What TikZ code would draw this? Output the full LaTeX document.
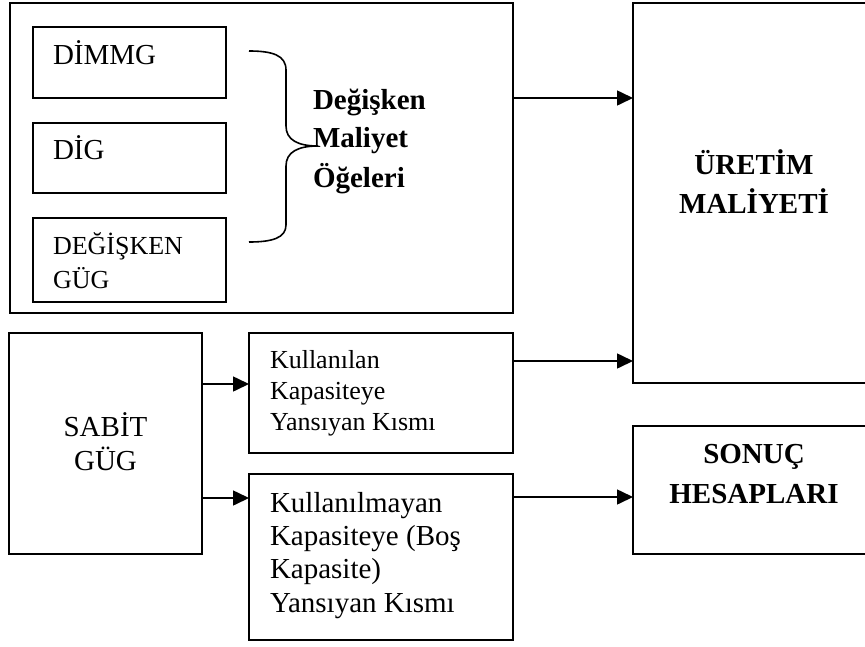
\documentclass[tikz,border=0pt]{standalone}
\usepackage{fontspec}
\setmainfont{Liberation Serif}
\usetikzlibrary{arrows.meta}
\begin{document}
\begin{tikzpicture}[x=1pt,y=-1pt,
  box/.style={draw, line width=1.6pt, inner sep=0pt, outer sep=0pt, anchor=north west},
  lbl/.style={inner sep=0pt, outer sep=0pt, anchor=base west},
  clbl/.style={inner sep=0pt, outer sep=0pt, anchor=base},
  fa/.style={font=\fontsize{29}{34}\selectfont},
  fb/.style={font=\fontsize{26}{34}\selectfont},
  fbold/.style={font=\fontsize{29}{39}\selectfont\bfseries},
  conn/.style={line width=1.6pt, -{Triangle[length=16pt,width=15pt]}},
  brace/.style={line width=1.6pt}]
\useasboundingbox (0,0) rectangle (865,646);

% boxes
\node[box, minimum width=503pt, minimum height=310pt] (grp) at (10,3) {};
\node[box, minimum width=193pt, minimum height=71pt] (dimmg) at (33,27) {};
\node[box, minimum width=193pt, minimum height=70pt] (dig) at (33,123) {};
\node[box, minimum width=193pt, minimum height=84pt] (dgug) at (33,218) {};
\node[box, minimum width=242pt, minimum height=380pt] (uretim) at (633,3) {};
\node[box, minimum width=193pt, minimum height=221pt] (sabit) at (9,333) {};
\node[box, minimum width=264pt, minimum height=120pt] (kul) at (249,333) {};
\node[box, minimum width=264pt, minimum height=166pt] (bos) at (249,474) {};
\node[box, minimum width=242pt, minimum height=128pt] (sonuc) at (633,426) {};

% texts, one node per printed line
\node[lbl, fa] (tdimmg) at (53,64) {DİMMG};
\node[lbl, fa] (tdig) at (53,159) {DİG};
\node[lbl, fb] (tdgug1) at (53,254) {DEĞİŞKEN};
\node[lbl, fb] (tdgug2) at (53,288) {GÜG};
\node[lbl, fbold] (tdeg1) at (313,109) {Değişken};
\node[lbl, fbold] (tdeg2) at (313,147) {Maliyet};
\node[lbl, fbold] (tdeg3) at (313,187) {Öğeleri};
\node[clbl, fbold] (turetim1) at (754,174) {ÜRETİM};
\node[clbl, fbold] (turetim2) at (754,213) {MALİYETİ};
\node[clbl, fa] (tsabit1) at (105.5,436) {SABİT};
\node[clbl, fa] (tsabit2) at (105.5,470) {GÜG};
\node[lbl, fb] (tkul1) at (270,368) {Kullanılan};
\node[lbl, fb] (tkul2) at (270,399) {Kapasiteye};
\node[lbl, fb] (tkul3) at (270,430) {Yansıyan Kısmı};
\node[lbl, fa] (tbos1) at (270,512) {Kullanılmayan};
\node[lbl, fa] (tbos2) at (270,545) {Kapasiteye (Boş};
\node[lbl, fa] (tbos3) at (270,578) {Kapasite)};
\node[lbl, fa] (tbos4) at (270,612) {Yansıyan Kısmı};
\node[clbl, fbold] (tsonuc1) at (754,463) {SONUÇ};
\node[clbl, fbold] (tsonuc2) at (754,503) {HESAPLARI};

% curly brace
\draw[brace] (249,51) .. controls (272,51) and (286,55) .. (286,70)
  -- (286,126) .. controls (286,140) and (298,146) .. (318,146)
  .. controls (298,146) and (286,152) .. (286,166)
  -- (286,225) .. controls (286,238) and (272,242) .. (249,242);

% connector levels
\coordinate (l1) at (0,98);
\coordinate (l2) at (0,361);
\coordinate (l3) at (0,384);
\coordinate (l4) at (0,498);
\coordinate (l5) at (0,497);

\draw[conn] (grp.east |- l1) -- (uretim.west |- l1);
\draw[conn] (kul.east |- l2) -- (uretim.west |- l2);
\draw[conn] (sabit.east |- l3) -- (kul.west |- l3);
\draw[conn] (sabit.east |- l4) -- (bos.west |- l4);
\draw[conn] (bos.east |- l5) -- (sonuc.west |- l5);
\end{tikzpicture}
\end{document}
